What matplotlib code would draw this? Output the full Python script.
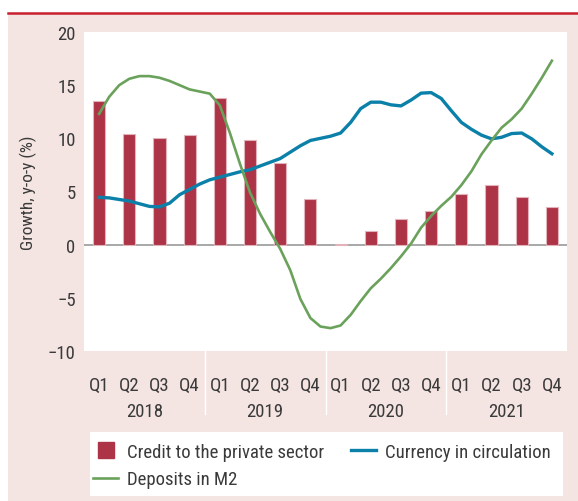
import matplotlib
matplotlib.use('Agg')
import matplotlib.pyplot as plt
import numpy as np
from matplotlib import font_manager
from matplotlib.patches import Rectangle
from matplotlib.lines import Line2D
from matplotlib.transforms import blended_transform_factory

# data
quarters = ['Q1', 'Q2', 'Q3', 'Q4'] * 4
years = ['2018', '2019', '2020', '2021']
credit = [13.5, 10.4, 10.0, 10.3, 13.8, 9.8, 7.65, 4.25,
          0.1, 1.25, 2.45, 3.15, 4.8, 5.65, 4.45, 3.55]
# monthly, Feb 2018 .. Nov 2021
currency = [4.45, 4.4, 4.25, 4.1, 3.85, 3.6, 3.55, 3.9, 4.7, 5.2, 5.7, 6.1,
            6.35, 6.6, 6.85, 7.05, 7.4, 7.75, 8.1, 8.7, 9.3, 9.8, 10.0, 10.2,
            10.5, 11.5, 12.8, 13.4, 13.4, 13.15, 13.05, 13.6, 14.25, 14.3, 13.75, 12.6,
            11.5, 10.85, 10.3, 9.95, 10.1, 10.45, 10.5, 9.95, 9.2, 8.55]
deposits = [12.3, 13.9, 15.0, 15.6, 15.85, 15.85, 15.7, 15.4, 15.0, 14.6, 14.4, 14.2,
            13.1, 10.5, 7.6, 4.9, 2.9, 1.2, -0.4, -2.4, -5.1, -6.9, -7.7, -7.85,
            -7.6, -6.6, -5.3, -4.1, -3.2, -2.2, -1.1, 0.1, 1.6, 2.7, 3.65, 4.5,
            5.6, 6.9, 8.5, 9.8, 11.0, 11.8, 12.8, 14.2, 15.7, 17.3]

names = {f.name for f in font_manager.fontManager.ttflist}
for fam in ['Liberation Sans Narrow', 'Roboto Condensed', 'DejaVu Sans Condensed', 'Liberation Sans']:
    if fam in names:
        plt.rcParams['font.family'] = [fam, 'DejaVu Sans']
        break

pink = '#F4E4E2'
txt = '#3a3a3a'
fs = 13.5
W, H = 578, 502

fig = plt.figure(figsize=(W / 100, H / 100), dpi=100)
fig.patches.append(Rectangle((8 / W, 0), 1 - 8 / W, 1 - 14 / H, transform=fig.transFigure,
                             facecolor=pink, edgecolor='none', zorder=-2))
fig.add_artist(Line2D([8 / W, 1], [1 - 13.5 / H] * 2, color='#C8202E', lw=1.8))

ax = fig.add_axes([84 / W, 1 - 352 / H, (567 - 84) / W, (352 - 33) / H])
ax.set_facecolor('white')
for s in ax.spines.values():
    s.set_visible(False)

x = np.arange(len(credit))
xm = np.arange(len(currency)) / 3
ax.bar(x, credit, width=0.4, color='#AD3446', edgecolor='#E3B3BB', linewidth=0.8, zorder=2)
ax.axhline(0, color='#9A9A9A', lw=1.2, zorder=1)
ax.plot(xm, currency, color='#0B80A9', lw=2.4, zorder=3)
ax.plot(xm, deposits, color='#6BA25B', lw=1.9, zorder=4)

ax.set_xlim(-0.5, 15.5)
ax.set_ylim(-10, 20)
ax.set_yticks(range(-10, 25, 5))
ax.set_xticks(x)
ax.set_xticklabels(quarters)
ax.tick_params(length=0, labelsize=fs, colors=txt)
ax.tick_params(axis='x', pad=18)
ax.tick_params(axis='y', pad=6)
ax.set_ylabel('Growth, y-o-y (%)', fontsize=12.5, color=txt, labelpad=8)

tr = blended_transform_factory(ax.transData, ax.transAxes)
for i, yr in enumerate(years):
    ax.text(4 * i + 1.5, -59.7 / 319, yr, transform=tr, ha='center', va='center',
            fontsize=fs, color=txt)
for b in [3.5, 7.5, 11.5]:
    ax.plot([b, b], [0, -63 / 319], transform=tr, color='white', lw=1, clip_on=False)

# legend
fig.patches.append(Rectangle((90 / W, 1 - 497 / H), (563 - 90) / W, (497 - 432.7) / H,
                             transform=fig.transFigure, facecolor='white',
                             edgecolor='none', zorder=-1))
h_credit = Line2D([], [], marker='s', markersize=11.5, linestyle='none', color='#AD3446')
h_cur = Line2D([], [], color='#0B80A9', lw=2.4)
h_dep = Line2D([], [], color='#6BA25B', lw=1.9)
fig.legend(handles=[h_credit, h_dep, h_cur],
           labels=['Credit to the private sector', 'Deposits in M2', 'Currency in circulation'],
           ncol=2, frameon=False, loc='upper left', bbox_to_anchor=(93 / W, 1 - 444 / H),
           fontsize=fs, labelcolor=txt, handlelength=1.35, handletextpad=0.45,
           columnspacing=1.45, labelspacing=0.5, borderpad=0, borderaxespad=0)

fig.savefig('out.png', dpi=100, facecolor='white')
